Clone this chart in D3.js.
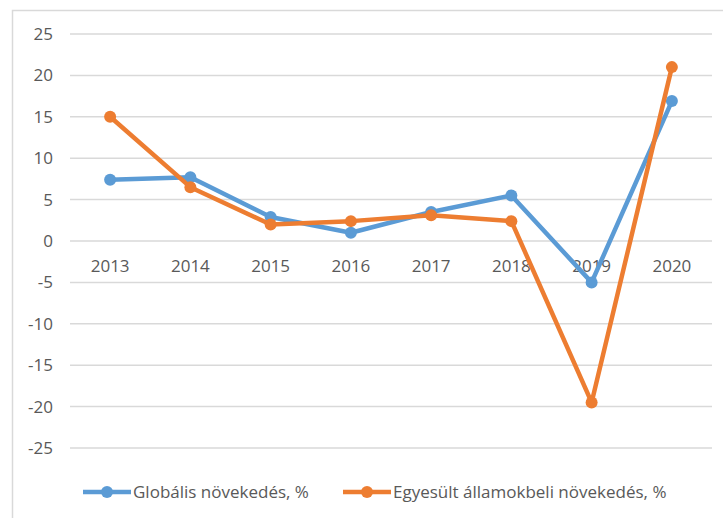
<!DOCTYPE html>
<html>
<head>
<meta charset="utf-8">
<script src="https://cdn.jsdelivr.net/npm/d3@7"></script>
<style>
  body { margin: 0; background: #fff; }
  text { font-family: "Open Sans", "Noto Sans", sans-serif; fill: #595959; }
</style>
</head>
<body>
<svg id="chart" width="723" height="518"></svg>
<script>
const years = ["2013", "2014", "2015", "2016", "2017", "2018", "2019", "2020"];
const globalGrowth = [7.4, 7.7, 2.9, 1.0, 3.5, 5.5, -5.0, 16.9];
const usGrowth = [15.0, 6.5, 2.0, 2.4, 3.1, 2.4, -19.5, 21.0];
const yTicks = [25, 20, 15, 10, 5, 0, -5, -10, -15, -20, -25];
const seriesNames = ["Globális növekedés, %", "Egyesült államokbeli növekedés, %"];
const colors = ["#5B9BD5", "#ED7D31"];

const svg = d3.select("#chart");

// chart frame
svg.append("rect")
  .attr("x", 12.5).attr("y", 10.5)
  .attr("width", 730).attr("height", 530)
  .attr("fill", "none")
  .attr("stroke", "#d9d9d9")
  .attr("stroke-width", 1.5);

const x = d3.scaleBand().domain(years).range([70, 712]);
const y = d3.scaleLinear().domain([-25, 25]).range([448, 34]);

// gridlines
svg.append("g")
  .selectAll("line")
  .data(yTicks)
  .join("line")
    .attr("x1", 70).attr("x2", 712)
    .attr("y1", d => y(d)).attr("y2", d => y(d))
    .attr("stroke", "#d9d9d9")
    .attr("stroke-width", 1.5);

// y axis labels (plain hyphen for negatives, like the original)
const yAxis = svg.append("g")
  .attr("transform", "translate(62,0)")
  .call(d3.axisLeft(y).tickValues(yTicks).tickSize(0).tickPadding(9)
    .tickFormat(d => String(d)));
yAxis.select(".domain").remove();
yAxis.selectAll("text")
  .attr("font-size", 17)
  .attr("font-family", null)
  .attr("fill", "#595959");

// x labels sit under the zero line
const xAxis = svg.append("g")
  .attr("transform", `translate(0,${y(0)})`)
  .call(d3.axisBottom(x).tickSize(0).tickPadding(19));
xAxis.select(".domain").remove();
xAxis.selectAll("text")
  .attr("font-size", 17)
  .attr("font-family", null)
  .attr("fill", "#595959");

const line = d3.line()
  .x((d, i) => x(years[i]) + x.bandwidth() / 2)
  .y(d => y(d));

[globalGrowth, usGrowth].forEach((vals, s) => {
  const g = svg.append("g");
  g.append("path")
    .datum(vals)
    .attr("d", line)
    .attr("fill", "none")
    .attr("stroke", colors[s])
    .attr("stroke-width", 4.5)
    .attr("stroke-linejoin", "round");
  g.selectAll("circle")
    .data(vals)
    .join("circle")
      .attr("cx", (d, i) => x(years[i]) + x.bandwidth() / 2)
      .attr("cy", d => y(d))
      .attr("r", 6)
      .attr("fill", colors[s]);
});

// legend
const legendX = [83, 343];
const legend = svg.append("g");
seriesNames.forEach((name, s) => {
  const lg = legend.append("g").attr("transform", `translate(${legendX[s]},492)`);
  lg.append("line")
    .attr("x1", 0).attr("x2", 48)
    .attr("stroke", colors[s]).attr("stroke-width", 4.5);
  lg.append("circle").attr("cx", 24).attr("r", 6).attr("fill", colors[s]);
  lg.append("text")
    .attr("x", 50).attr("dy", "0.35em")
    .attr("font-size", 17)
    .text(name);
});
</script>
</body>
</html>
